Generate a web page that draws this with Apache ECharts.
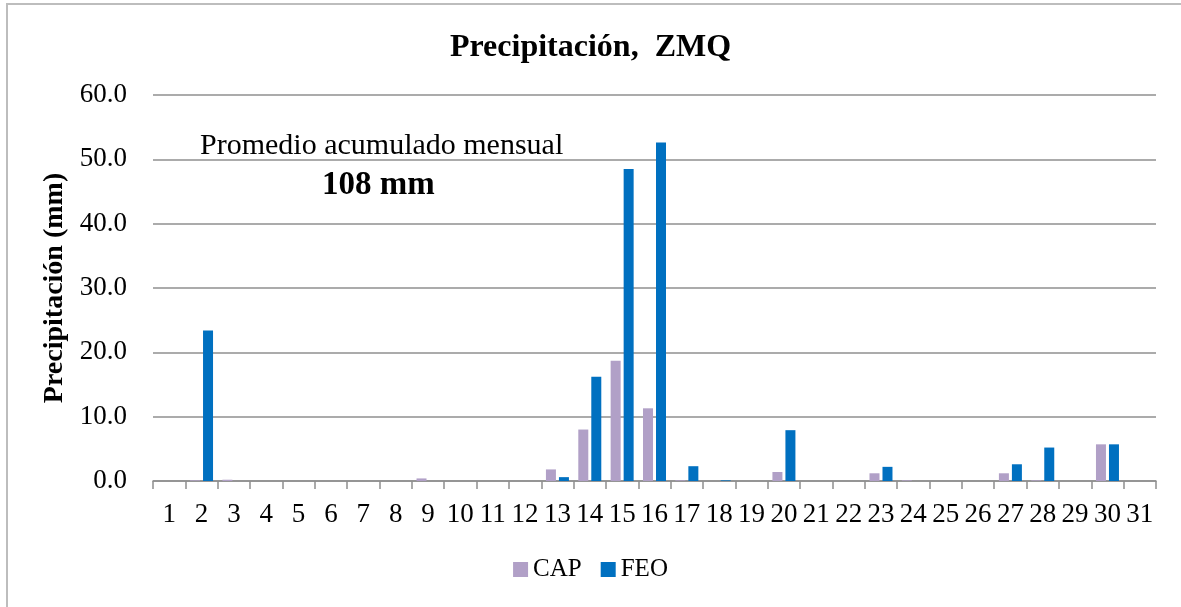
<!DOCTYPE html>
<html>
<head>
<meta charset="utf-8">
<script src="https://cdn.jsdelivr.net/npm/echarts@6/dist/echarts.min.js"></script>
<style>
  html, body { margin: 0; padding: 0; background: #fff; }
  #chart { width: 1181px; height: 607px; }
</style>
</head>
<body>
<div id="chart"></div>
<script>
  // dias del mes
  var days = ['1','2','3','4','5','6','7','8','9','10','11','12','13','14','15','16',
              '17','18','19','20','21','22','23','24','25','26','27','28','29','30','31'];
  var capValues = [0, 0.1, 0.2, 0, 0, 0, 0, 0, 0.4, 0, 0, 0, 1.8, 8.0, 18.7, 11.3,
                   0.1, 0, 0, 1.4, 0, 0, 1.2, 0.1, 0, 0, 1.2, 0.1, 0, 5.7, 0];
  var feoValues = [0, 23.4, 0, 0, 0, 0, 0, 0, 0, 0, 0, 0, 0.6, 16.2, 48.5, 52.6,
                   2.3, 0.1, 0, 7.9, 0, 0, 2.2, 0, 0, 0, 2.6, 5.2, 0, 5.7, 0];
  var yTicks = [0, 10, 20, 30, 40, 50, 60];

  var font = "'Liberation Serif', serif";
  var gridColor = '#8f8f8f';

  var option = {
    animation: false,
    textStyle: { fontFamily: font, color: '#000' },
    title: {
      text: 'Precipitación,  ZMQ',
      left: 'center',
      top: 27,
      textStyle: { fontFamily: font, fontSize: 32, fontWeight: 'bold', color: '#000' }
    },
    grid: { left: 153, right: 25, top: 95, bottom: 126 },
    legend: {
      bottom: 20,
      left: 'center',
      icon: 'rect',
      itemWidth: 15,
      itemHeight: 15,
      itemGap: 19,
      textStyle: { fontFamily: font, fontSize: 25, color: '#000' },
      data: ['CAP', 'FEO']
    },
    xAxis: {
      type: 'category',
      data: days,
      axisLine: { lineStyle: { color: gridColor, width: 1.5 } },
      axisTick: { show: true, length: 8, lineStyle: { color: gridColor, width: 1.5 } },
      axisLabel: { interval: 0, margin: 20, fontSize: 27, color: '#000', fontFamily: font }
    },
    yAxis: {
      type: 'value',
      min: yTicks[0],
      max: yTicks[yTicks.length - 1],
      interval: 10,
      name: 'Precipitación (mm)',
      nameLocation: 'middle',
      nameGap: 84,
      nameTextStyle: { fontFamily: font, fontSize: 28, fontWeight: 'bold', color: '#000' },
      axisLine: { show: false },
      axisTick: { show: false },
      axisLabel: {
        margin: 26, fontSize: 27, color: '#000', fontFamily: font,
        formatter: function (v) { return v.toFixed(1); }
      },
      splitLine: { lineStyle: { color: gridColor, width: 1.5 } }
    },
    graphic: [
      {
        type: 'rect',
        shape: { x: 7, y: 4, width: 1300, height: 800 },
        style: { fill: 'none', stroke: '#bdbdbd', lineWidth: 2 },
        silent: true
      },
      {
        type: 'text',
        left: 200,
        top: 131,
        style: { text: 'Promedio acumulado mensual', font: '30px ' + font, fill: '#000' }
      },
      {
        type: 'text',
        left: 322,
        top: 169,
        style: { text: '108 mm', font: 'bold 33px ' + font, fill: '#000' }
      }
    ],
    series: [
      {
        name: 'CAP',
        type: 'bar',
        data: capValues,
        barWidth: 10,
        barGap: '30%',
        itemStyle: { color: '#b1a0c7' }
      },
      {
        name: 'FEO',
        type: 'bar',
        data: feoValues,
        barWidth: 10,
        barGap: '30%',
        itemStyle: { color: '#0070c0' }
      }
    ]
  };

  echarts.init(document.getElementById('chart')).setOption(option);
</script>
</body>
</html>
